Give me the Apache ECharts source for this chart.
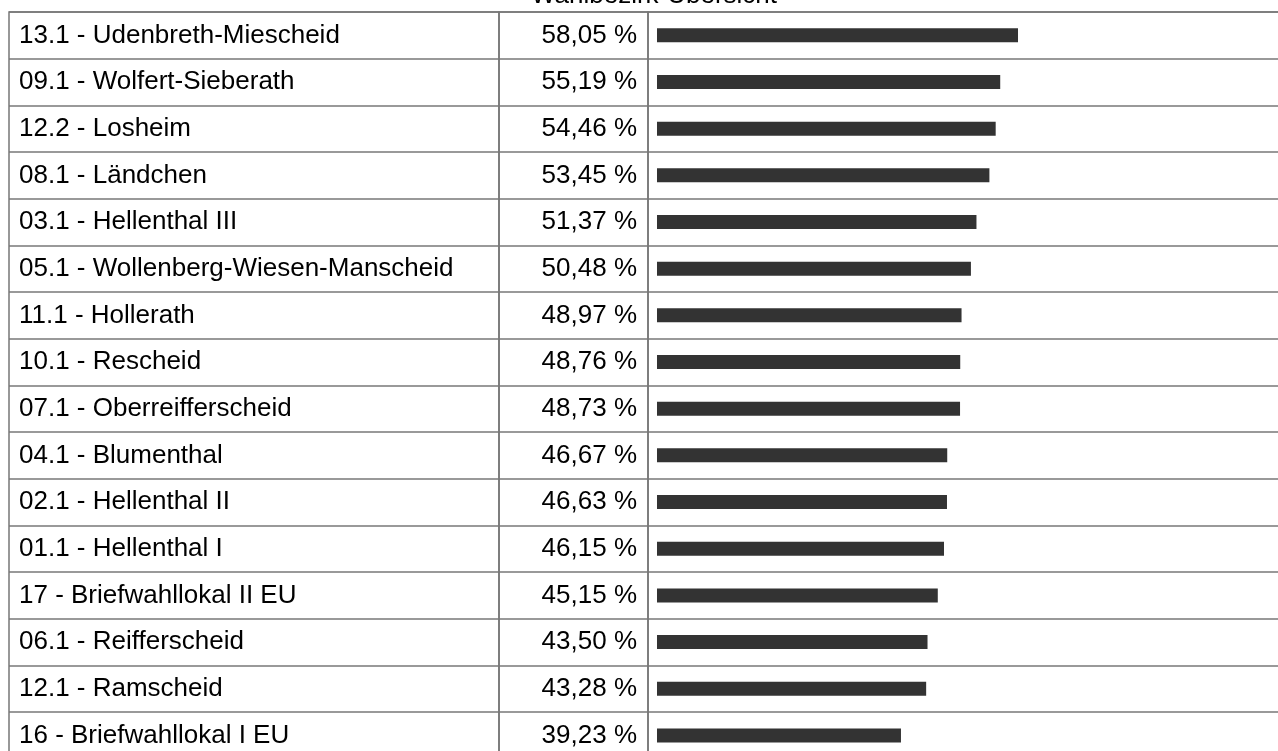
<!DOCTYPE html>
<html>
<head>
<meta charset="utf-8">
<script src="https://cdn.jsdelivr.net/npm/echarts@6/dist/echarts.min.js"></script>
<style>
  html, body { margin: 0; background: #fff; }
  #chart { width: 1278px; height: 751px; }
</style>
</head>
<body>
<div id="chart"></div>
<script>
const districts = [
  '13.1 - Udenbreth-Miescheid',
  '09.1 - Wolfert-Sieberath',
  '12.2 - Losheim',
  '08.1 - Ländchen',
  '03.1 - Hellenthal III',
  '05.1 - Wollenberg-Wiesen-Manscheid',
  '11.1 - Hollerath',
  '10.1 - Rescheid',
  '07.1 - Oberreifferscheid',
  '04.1 - Blumenthal',
  '02.1 - Hellenthal II',
  '01.1 - Hellenthal I',
  '17 - Briefwahllokal II EU',
  '06.1 - Reifferscheid',
  '12.1 - Ramscheid',
  '16 - Briefwahllokal I EU'
];
const turnout = [58.05, 55.19, 54.46, 53.45, 51.37, 50.48, 48.97, 48.76, 48.73, 46.67, 46.63, 46.15, 45.15, 43.50, 43.28, 39.23];

const font = 'Liberation Sans, Arial, sans-serif';
const rowH = 46.67;
const tableH = rowH * districts.length;
const lineStyle = { color: '#777', width: 1.5 };

function fmt(v) {
  return v.toFixed(2).replace('.', ',') + ' %';
}

// one grid per table column, borders + split lines make the table
const gridBase = {
  top: 12, height: tableH, show: true,
  borderColor: '#777', borderWidth: 1.5,
  outerBoundsMode: 'none'
};

function catAxis(gridIndex, position, labelOpt) {
  return {
    type: 'category',
    gridIndex: gridIndex,
    position: position,
    inverse: true,
    data: districts,
    axisLine: { show: false },
    axisTick: { show: false },
    splitLine: { show: true, interval: 0, lineStyle: lineStyle },
    axisLabel: labelOpt
  };
}

const chart = echarts.init(document.getElementById('chart'));
chart.setOption({
  animation: false,
  textStyle: { fontFamily: font },
  title: {
    text: 'Wahlbezirk-Übersicht',
    left: 649,
    textAlign: 'center',
    top: -22,
    textStyle: { fontFamily: font, fontSize: 26, fontWeight: 'normal', color: '#000' }
  },
  grid: [
    Object.assign({ left: 9, width: 490 }, gridBase),
    Object.assign({ left: 499, width: 149 }, gridBase),
    Object.assign({ left: 648, width: 634 }, gridBase)
  ],
  xAxis: [
    { type: 'value', gridIndex: 0, show: false, splitLine: { show: false } },
    { type: 'value', gridIndex: 1, show: false, splitLine: { show: false } },
    { type: 'value', gridIndex: 2, min: -1.447, max: 100.5, show: false, splitLine: { show: false } }
  ],
  yAxis: [
    catAxis(0, 'left', {
      inside: true, margin: 10, interval: 0, padding: [5, 0, 0, 0],
      fontFamily: font, fontSize: 26, color: '#000'
    }),
    catAxis(1, 'right', {
      inside: true, margin: 11, interval: 0, padding: [5, 0, 0, 0],
      fontFamily: font, fontSize: 26, color: '#000',
      formatter: function (v, i) { return fmt(turnout[i]); }
    }),
    catAxis(2, 'left', { show: false })
  ],
  series: [
    {
      type: 'bar',
      xAxisIndex: 2,
      yAxisIndex: 2,
      data: turnout,
      barWidth: 14,
      itemStyle: { color: '#333' },
      silent: true
    }
  ]
});
</script>
</body>
</html>
